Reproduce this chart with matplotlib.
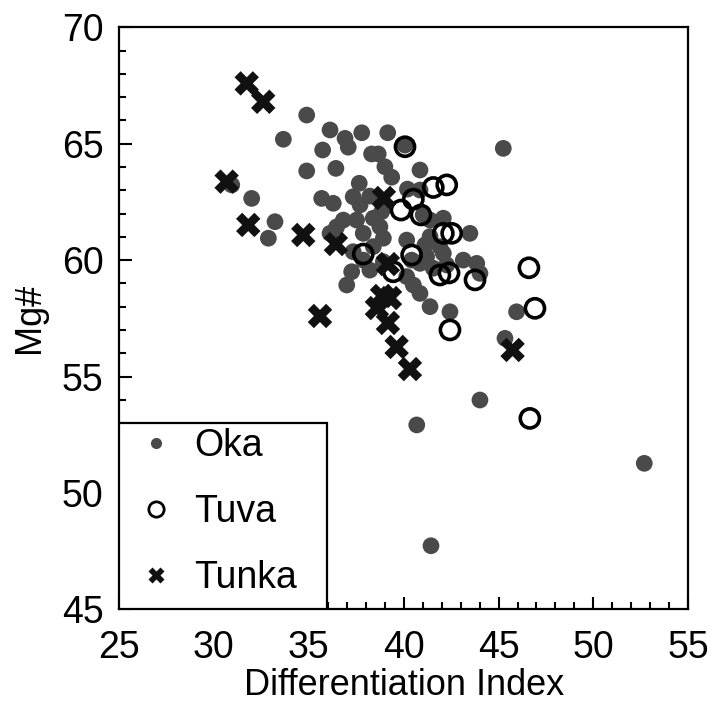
import numpy as np
import matplotlib
matplotlib.use("Agg")
import matplotlib.pyplot as plt
from matplotlib.patches import Rectangle
from matplotlib.lines import Line2D

plt.rcParams['font.family'] = ['Liberation Sans', 'DejaVu Sans']

# Oka (filled grey dots)
oka_di = [34.89, 33.66, 36.12, 36.91, 37.08, 37.79, 39.16, 35.73, 38.31, 38.66,
          39.01, 39.37, 34.89, 36.43, 37.66, 31.99, 30.94, 35.68, 36.29, 37.34,
          38.22, 33.22, 32.87, 40.07, 45.25, 40.86, 40.86, 41.03, 42.09, 43.49,
          40.16, 41.12, 37.70, 38.84, 36.82, 37.52, 38.40, 38.75, 37.87, 38.93,
          41.39, 36.12, 36.47, 38.40, 37.34, 40.42, 41.21, 42.09, 41.39, 41.91,
          37.00, 37.26, 37.87, 40.16, 40.51, 40.86, 41.39, 42.44, 40.86, 41.56,
          42.27, 43.14, 43.85, 44.02, 38.93, 38.22, 45.95, 45.34, 44.02, 40.69,
          52.68, 41.44, 40.20]
oka_mg = [66.23, 65.19, 65.59, 65.23, 64.85, 65.47, 65.47, 64.73, 64.56, 64.56,
          64.01, 63.56, 63.83, 63.94, 63.30, 62.65, 63.23, 62.65, 62.44, 62.72,
          62.75, 61.65, 60.94, 64.94, 64.80, 63.87, 63.01, 61.94, 61.80, 61.15,
          60.86, 60.65, 62.37, 62.08, 61.72, 61.72, 61.80, 61.43, 61.15, 60.94,
          61.72, 61.15, 61.43, 60.58, 60.36, 60.00, 60.15, 60.29, 61.01, 60.58,
          58.93, 59.50, 60.00, 59.29, 58.93, 58.57, 58.00, 57.78, 59.86, 59.65,
          59.79, 60.00, 59.86, 59.43, 59.93, 59.57, 57.78, 56.64, 53.99, 52.92,
          51.27, 47.73, 63.05]

# Tuva (open circles)
tuva_di = [40.07, 41.56, 42.27, 40.51, 39.86, 40.91, 42.09, 42.53, 37.87, 40.42,
           39.45, 41.91, 42.39, 43.76, 46.60, 46.92, 42.44, 46.65]
tuva_mg = [64.87, 63.12, 63.23, 62.62, 62.15, 61.94, 61.15, 61.15, 60.26, 60.22,
           59.50, 59.36, 59.45, 59.15, 59.67, 57.93, 57.00, 53.20]

# Tunka (crosses)
tunka_di = [31.73, 32.60, 30.67, 31.81, 34.71, 36.43, 35.59, 38.96, 39.17, 38.86,
            39.28, 38.59, 39.17, 39.63, 40.33, 45.74]
tunka_mg = [67.59, 66.80, 63.37, 61.51, 61.08, 60.69, 57.60, 62.67, 59.83, 58.46,
            58.37, 57.94, 57.30, 56.27, 55.32, 56.14]

fig = plt.figure(figsize=(7.14, 7.09), dpi=100)
ax = fig.add_axes([0.1667, 0.1406, 0.7973, 0.8209])

ax.scatter(oka_di, oka_mg, s=145, c='#4a4a4a', edgecolors='none', zorder=2)
ax.scatter(tuva_di, tuva_mg, s=190, facecolors='none', edgecolors='black',
           linewidths=2.6, zorder=3)
ax.scatter(tunka_di, tunka_mg, s=310, marker='X', c='#111111',
           edgecolors='none', zorder=4)

ax.set_xlim(25, 55)
ax.set_ylim(45, 70)
ax.set_xticks(np.arange(25, 56, 5))
ax.set_yticks(np.arange(45, 71, 5))
ax.set_xticks(np.arange(25, 56, 1), minor=True)
ax.set_yticks(np.arange(45, 71, 1), minor=True)
ax.tick_params(which='both', direction='in', top=False, right=False,
               width=1.5, labelsize=27)
ax.tick_params(axis='x', which='both', pad=15)
ax.tick_params(axis='y', which='both', pad=11)
ax.tick_params(which='major', length=9)
ax.tick_params(which='minor', length=5)
for sp in ax.spines.values():
    sp.set_linewidth(1.6)

ax.set_xlabel('Differentiation Index', fontsize=26, labelpad=1)
ax.set_ylabel('Mg#', fontsize=26, labelpad=11)

# legend box in lower-left corner
ax.add_patch(Rectangle((25, 45), 10.94, 8.02, facecolor='white',
                       edgecolor='black', linewidth=1.6, zorder=5))
handles = [
    Line2D([], [], ls='none', marker='o', ms=8, mfc='#4a4a4a', mec='none'),
    Line2D([], [], ls='none', marker='o', ms=11, mfc='none', mec='black', mew=2),
    Line2D([], [], ls='none', marker='X', ms=11, mfc='#111111', mec='none'),
]
leg = ax.legend(handles, ['Oka', 'Tuva', 'Tunka'], loc='upper left',
                bbox_to_anchor=(0.032, 0.312), frameon=False, fontsize=27,
                handlelength=1.0, handletextpad=0.52, labelspacing=0.8,
                borderpad=0, borderaxespad=0)
leg.set_zorder(6)

fig.savefig('out.png', dpi=100)
